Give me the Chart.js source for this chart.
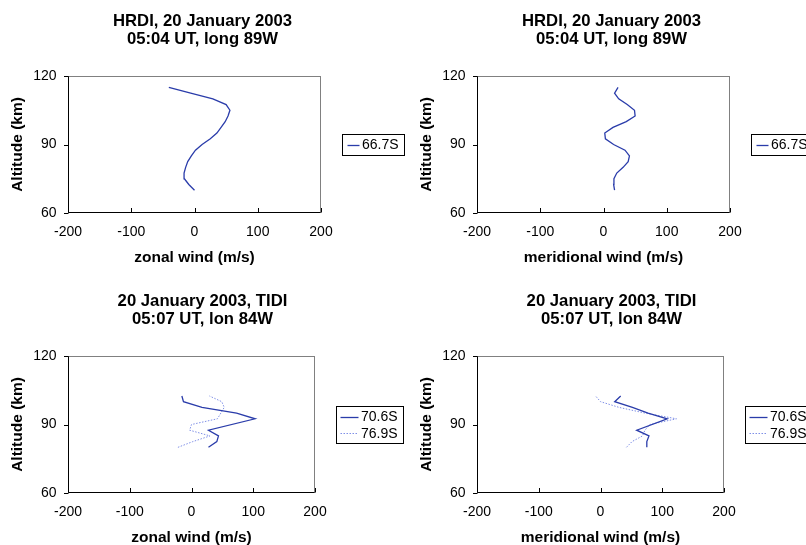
<!DOCTYPE html>
<html>
<head>
<meta charset="utf-8">
<script src="https://cdn.jsdelivr.net/npm/chart.js@4"></script>
<style>
  html, body { margin: 0; padding: 0; background: #fff; }
  #page { position: relative; width: 806px; height: 545px; overflow: hidden; background: #fff; }
  canvas { position: absolute; }
</style>
</head>
<body>
<div id="page">
  <canvas id="hrdiZonalChart" width="405" height="280" style="left:0;top:0"></canvas>
  <canvas id="hrdiMeridChart" width="405" height="280" style="left:409px;top:0"></canvas>
  <canvas id="tidiZonalChart" width="405" height="280" style="left:0;top:280px"></canvas>
  <canvas id="tidiMeridChart" width="405" height="280" style="left:409px;top:280px"></canvas>
</div>
<script>
// Axis ticks
const altTicks = [60, 90, 120];
const windTicks = [-200, -100, 0, 100, 200];

// HRDI profiles at 66.7S (altitude in km, wind in m/s)
const hrdiAltitude   = [70, 72.5, 75, 77.5, 80, 82.5, 85, 87.5, 90, 92.5, 95, 97.5, 100, 102.5, 105, 107.5, 110, 112.5, 115];
const hrdiZonal      = [0, -9, -16, -16.5, -14, -10.7, -5, 1.5, 12, 25, 35.4, 42, 48.5, 53, 56, 50, 29, -6, -40.6];
const hrdiMeridional = [17.5, 16, 16.5, 21, 31, 39, 41, 34, 16, 3, 2, 15, 36, 50, 49, 37.5, 24, 17.5, 23];

// TIDI profiles at 70.6S and 76.9S
const tidiAlt706        = [80, 82.5, 85, 87.5, 92.5, 95, 97.5, 100, 102.5];
const tidiZonal706      = [27.5, 41, 43.7, 27.5, 103, 73, 17, -13, -15.6];
const tidiMeridional706 = [75, 75, 78.5, 58.6, 108, 77, 51.7, 23, 32.7];

const tidiAlt769        = [80, 82.5, 85, 87.5, 90, 92.5, 95, 97.5, 100, 102.5];
const tidiZonal769      = [-22, 2, 30, -3, 0, 42, 47.5, 53, 49, 29];
const tidiMeridional769 = [42, 51, 68, 72, 80, 123, 72, 30, 0, -8];

const FONT = "'Liberation Sans', Arial, Helvetica, sans-serif";
Chart.defaults.font.family = FONT;
Chart.defaults.color = '#000';

const SOLID = { color: '#2a3caa', width: 1.3, dash: [] };
const DOTTED = { color: '#7f8fe6', width: 1, dash: [1.5, 1.5] };

// Plot frame: grey box, black left/bottom axes, y ticks outside, x ticks inside
const plotFrame = {
  id: 'plotFrame',
  beforeDatasetsDraw(chart) {
    const { ctx, chartArea: a, scales: { x, y } } = chart;
    const L = Math.round(a.left) + 0.5, R = Math.round(a.right) - 0.5;
    const T = Math.round(a.top) + 0.5, B = Math.round(a.bottom) - 0.5;
    ctx.save();
    ctx.lineWidth = 1;
    ctx.strokeStyle = '#808080';
    ctx.strokeRect(L, T, R - L, B - T);
    ctx.strokeStyle = '#000';
    ctx.beginPath();
    ctx.moveTo(L, T); ctx.lineTo(L, B); ctx.lineTo(R, B);
    y.ticks.forEach(t => {
      const py = Math.round(y.getPixelForValue(t.value)) + 0.5;
      ctx.moveTo(L - 4.5, py); ctx.lineTo(L, py);
    });
    x.ticks.forEach(t => {
      const px = Math.round(x.getPixelForValue(t.value)) + 0.5;
      ctx.moveTo(px, B); ctx.lineTo(px, B - 4.5);
    });
    ctx.stroke();
    ctx.restore();
  }
};

// Boxed legend to the right of the plot, built from the datasets
const boxedLegend = {
  id: 'boxedLegend',
  afterDraw(chart, args, o) {
    const { ctx, chartArea: a } = chart;
    const sets = chart.data.datasets;
    const rowH = 16.6;
    const h = Math.round(rowH * sets.length + 4);
    const left = Math.round(a.right + o.gap) + 0.5;
    const top = Math.round((a.top + a.bottom) / 2 - h / 2) + 0.5;
    ctx.save();
    ctx.lineWidth = 1;
    ctx.strokeStyle = '#000';
    ctx.strokeRect(left, top, o.width, h);
    ctx.font = '14px ' + FONT;
    ctx.fillStyle = '#000';
    ctx.textBaseline = 'middle';
    ctx.textAlign = 'left';
    sets.forEach((ds, i) => {
      const cy = top + 2 + rowH / 2 + rowH * i;
      const ly = Math.round(cy) + 0.5;
      ctx.save();
      ctx.strokeStyle = ds.borderColor;
      ctx.lineWidth = ds.borderWidth;
      ctx.setLineDash(ds.borderDash || []);
      ctx.beginPath();
      ctx.moveTo(left + o.sampleStart, ly);
      ctx.lineTo(left + o.sampleEnd, ly);
      ctx.stroke();
      ctx.restore();
      ctx.fillText(ds.label, left + o.textX, cy + 0.5);
    });
    ctx.restore();
  }
};

function profileChart(id, titleLines, xTitle, series, legendOpts, rightSpace) {
  return new Chart(document.getElementById(id), {
    type: 'scatter',
    data: {
      datasets: series.map(s => ({
        label: s.label,
        data: s.alt.map((a, i) => ({ x: s.wind[i], y: a })),
        showLine: true,
        borderColor: s.style.color,
        borderWidth: s.style.width,
        borderDash: s.style.dash,
        pointRadius: 0,
        pointHoverRadius: 0,
        tension: 0,
        fill: false
      }))
    },
    options: {
      responsive: false,
      animation: false,
      events: [],
      layout: { padding: 0 },
      plugins: {
        legend: { display: false },
        tooltip: { enabled: false },
        title: {
          display: true,
          text: titleLines,
          color: '#000',
          font: { size: 16.7, weight: 'bold', lineHeight: 1.06 },
          padding: { top: 12.35, bottom: 28.25 }
        },
        boxedLegend: legendOpts
      },
      scales: {
        x: {
          type: 'linear', position: 'bottom', min: -200, max: 200,
          afterBuildTicks: s => { s.ticks = windTicks.map(v => ({ value: v })); },
          afterFit: s => { s.height = 67; },
          grid: { display: false, drawTicks: false },
          border: { display: false },
          ticks: { color: '#000', font: { size: 14 }, padding: 10.9, maxRotation: 0, autoSkip: false, callback: v => String(v) },
          title: { display: true, text: xTitle, color: '#000', font: { size: 15.5, weight: 'bold', lineHeight: 1.2 }, padding: { top: 0, bottom: 12.9 } }
        },
        y: {
          type: 'linear', position: 'left', min: 60, max: 120,
          afterBuildTicks: s => { s.ticks = altTicks.map(v => ({ value: v })); },
          afterFit: s => { s.width = 68; },
          grid: { display: false, drawTicks: false },
          border: { display: false },
          ticks: { color: '#000', font: { size: 14 }, padding: 11.5, autoSkip: false, callback: v => String(v) },
          title: { display: true, text: 'Altitude (km)', color: '#000', font: { size: 15.5, weight: 'bold', lineHeight: 1.2 }, padding: { top: 8.2, bottom: 0 } }
        },
        legendSpace: {
          type: 'linear', position: 'right', display: true, min: 0, max: 1,
          afterFit: s => { s.width = rightSpace; },
          grid: { display: false, drawTicks: false },
          border: { display: false },
          ticks: { display: false }
        }
      }
    },
    plugins: [plotFrame, boxedLegend]
  });
}

const singleLegend = { gap: 20.5, width: 62, sampleStart: 5, sampleEnd: 17, textX: 19.5 };
const doubleLegend = { gap: 21, width: 67, sampleStart: 4, sampleEnd: 22, textX: 24.5 };

profileChart('hrdiZonalChart', ['HRDI, 20 January 2003', '05:04 UT, long 89W'], 'zonal wind (m/s)',
  [{ label: '66.7S', alt: hrdiAltitude, wind: hrdiZonal, style: SOLID }], singleLegend, 84);

profileChart('hrdiMeridChart', ['HRDI, 20 January 2003', '05:04 UT, long 89W'], 'meridional wind (m/s)',
  [{ label: '66.7S', alt: hrdiAltitude, wind: hrdiMeridional, style: SOLID }], singleLegend, 84);

profileChart('tidiZonalChart', ['20 January 2003, TIDI', '05:07 UT, lon 84W'], 'zonal wind (m/s)',
  [{ label: '70.6S', alt: tidiAlt706, wind: tidiZonal706, style: SOLID },
   { label: '76.9S', alt: tidiAlt769, wind: tidiZonal769, style: DOTTED }], doubleLegend, 90);

profileChart('tidiMeridChart', ['20 January 2003, TIDI', '05:07 UT, lon 84W'], 'meridional wind (m/s)',
  [{ label: '70.6S', alt: tidiAlt706, wind: tidiMeridional706, style: SOLID },
   { label: '76.9S', alt: tidiAlt769, wind: tidiMeridional769, style: DOTTED }], doubleLegend, 90);
</script>
</body>
</html>
